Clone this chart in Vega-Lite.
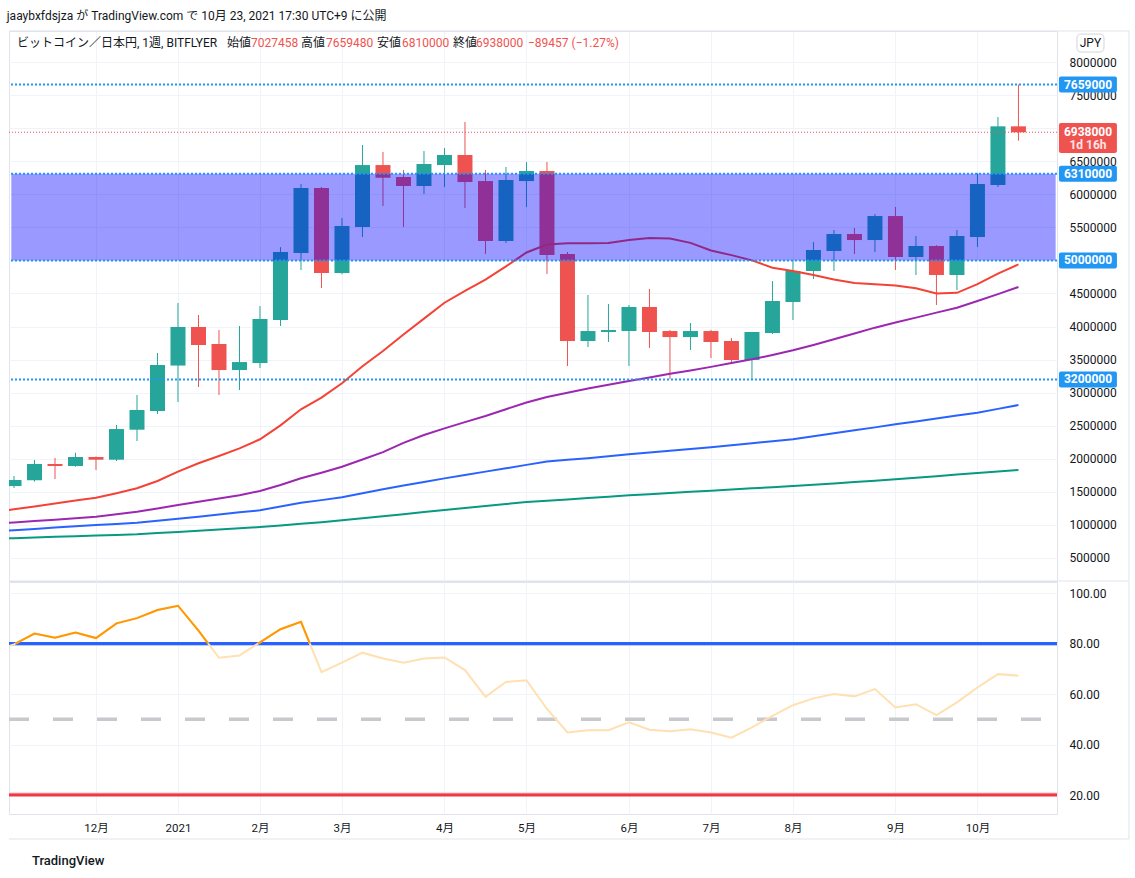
{
  "$schema": "https://vega.github.io/schema/vega-lite/v6.json",
  "background": "white",
  "padding": {"left": 6, "top": 10, "right": 0, "bottom": 0},
  "title": {"text": "jaaybxfdsjza が TradingView.com で 10月 23, 2021 17:30 UTC+9 に公開", "anchor": "start", "fontSize": 12, "fontWeight": "normal", "color": "#131722", "font": "Roboto, 'Noto Sans CJK JP', sans-serif", "offset": 7},
  "config": {
    "font": "Roboto, 'Noto Sans CJK JP', sans-serif",
    "view": {"stroke": "#e0e3eb"},
    "axis": {"labelFont": "Roboto, 'Noto Sans CJK JP', sans-serif", "labelColor": "#131722", "domain": false, "ticks": false, "gridColor": "#f0f3fa", "title": null}
  },
  "data": {"values": [{}]},
  "datasets": {
    "candles": [
      {"d": "2020-11-02", "o": null, "h": null, "l": null, "c": null, "ma1": 1190000, "ma2": 1020000, "ma3": 905000, "ma4": 790000, "rsi": 77.0},
      {"d": "2020-11-09", "o": 1588000, "h": 1740000, "l": 1558000, "c": 1679000, "ma1": 1237000, "ma2": 1038000, "ma3": 920000, "ma4": 800000, "rsi": 79.7},
      {"d": "2020-11-16", "o": 1675000, "h": 1982000, "l": 1655000, "c": 1921000, "ma1": 1280000, "ma2": 1060000, "ma3": 940000, "ma4": 810000, "rsi": 84.0},
      {"d": "2020-11-23", "o": 1921000, "h": 2012000, "l": 1694000, "c": 1891000, "ma1": 1324000, "ma2": 1080000, "ma3": 960000, "ma4": 820000, "rsi": 82.3},
      {"d": "2020-11-30", "o": 1891000, "h": 2092000, "l": 1880000, "c": 2027000, "ma1": 1368000, "ma2": 1100000, "ma3": 980000, "ma4": 829000, "rsi": 84.4},
      {"d": "2020-12-07", "o": 2027000, "h": 2035000, "l": 1830000, "c": 1986000, "ma1": 1412000, "ma2": 1125000, "ma3": 1000000, "ma4": 839000, "rsi": 82.2},
      {"d": "2020-12-14", "o": 1986000, "h": 2511000, "l": 1966000, "c": 2450000, "ma1": 1480000, "ma2": 1160000, "ma3": 1015000, "ma4": 848000, "rsi": 88.0},
      {"d": "2020-12-21", "o": 2440000, "h": 2965000, "l": 2269000, "c": 2738000, "ma1": 1554000, "ma2": 1200000, "ma3": 1034000, "ma4": 858000, "rsi": 90.1},
      {"d": "2020-12-28", "o": 2723000, "h": 3600000, "l": 2677000, "c": 3418000, "ma1": 1664000, "ma2": 1250000, "ma3": 1064000, "ma4": 876000, "rsi": 93.3},
      {"d": "2021-01-04", "o": 3410000, "h": 4356000, "l": 2859000, "c": 3993000, "ma1": 1805000, "ma2": 1300000, "ma3": 1094000, "ma4": 894000, "rsi": 95.0},
      {"d": "2021-01-11", "o": 3993000, "h": 4174000, "l": 3085000, "c": 3721000, "ma1": 1932000, "ma2": 1350000, "ma3": 1125000, "ma4": 913000, "rsi": 85.1},
      {"d": "2021-01-18", "o": 3736000, "h": 3947000, "l": 2965000, "c": 3342000, "ma1": 2042000, "ma2": 1400000, "ma3": 1157000, "ma4": 931000, "rsi": 74.4},
      {"d": "2021-01-25", "o": 3342000, "h": 4008000, "l": 3040000, "c": 3463000, "ma1": 2158000, "ma2": 1450000, "ma3": 1190000, "ma4": 950000, "rsi": 75.3},
      {"d": "2021-02-01", "o": 3448000, "h": 4310000, "l": 3373000, "c": 4114000, "ma1": 2295000, "ma2": 1513000, "ma3": 1221000, "ma4": 968000, "rsi": 80.5},
      {"d": "2021-02-08", "o": 4099000, "h": 5200000, "l": 4008000, "c": 5127000, "ma1": 2506000, "ma2": 1604000, "ma3": 1280000, "ma4": 992000, "rsi": 85.7},
      {"d": "2021-02-15", "o": 5112000, "h": 6155000, "l": 4855000, "c": 6095000, "ma1": 2748000, "ma2": 1705000, "ma3": 1336000, "ma4": 1016000, "rsi": 88.6},
      {"d": "2021-02-22", "o": 6095000, "h": 6110000, "l": 4582000, "c": 4809000, "ma1": 2924000, "ma2": 1790000, "ma3": 1375000, "ma4": 1040000, "rsi": 68.7},
      {"d": "2021-03-01", "o": 4809000, "h": 5641000, "l": 4790000, "c": 5520000, "ma1": 3142000, "ma2": 1880000, "ma3": 1420000, "ma4": 1069000, "rsi": 72.5},
      {"d": "2021-03-08", "o": 5505000, "h": 6745000, "l": 5354000, "c": 6442000, "ma1": 3400000, "ma2": 1990000, "ma3": 1480000, "ma4": 1100000, "rsi": 76.4},
      {"d": "2021-03-15", "o": 6442000, "h": 6639000, "l": 5822000, "c": 6250000, "ma1": 3630000, "ma2": 2100000, "ma3": 1540000, "ma4": 1132000, "rsi": 74.1},
      {"d": "2021-03-22", "o": 6261000, "h": 6367000, "l": 5505000, "c": 6125000, "ma1": 3880000, "ma2": 2240000, "ma3": 1595000, "ma4": 1163000, "rsi": 72.4},
      {"d": "2021-03-29", "o": 6125000, "h": 6654000, "l": 6004000, "c": 6458000, "ma1": 4120000, "ma2": 2360000, "ma3": 1650000, "ma4": 1194000, "rsi": 74.1},
      {"d": "2021-04-05", "o": 6442000, "h": 6699000, "l": 6110000, "c": 6594000, "ma1": 4360000, "ma2": 2460000, "ma3": 1704000, "ma4": 1225000, "rsi": 74.5},
      {"d": "2021-04-12", "o": 6594000, "h": 7093000, "l": 5792000, "c": 6185000, "ma1": 4540000, "ma2": 2555000, "ma3": 1755000, "ma4": 1256000, "rsi": 69.5},
      {"d": "2021-04-19", "o": 6200000, "h": 6367000, "l": 5097000, "c": 5293000, "ma1": 4710000, "ma2": 2647000, "ma3": 1806000, "ma4": 1286000, "rsi": 58.9},
      {"d": "2021-04-26", "o": 5293000, "h": 6412000, "l": 5263000, "c": 6216000, "ma1": 4910000, "ma2": 2750000, "ma3": 1856000, "ma4": 1316000, "rsi": 64.8},
      {"d": "2021-05-03", "o": 6200000, "h": 6488000, "l": 5807000, "c": 6352000, "ma1": 5120000, "ma2": 2850000, "ma3": 1908000, "ma4": 1346000, "rsi": 65.5},
      {"d": "2021-05-10", "o": 6352000, "h": 6488000, "l": 4794000, "c": 5082000, "ma1": 5240000, "ma2": 2935000, "ma3": 1958000, "ma4": 1366000, "rsi": 54.1},
      {"d": "2021-05-17", "o": 5097000, "h": 5127000, "l": 3403000, "c": 3781000, "ma1": 5260000, "ma2": 3000000, "ma3": 1985000, "ma4": 1386000, "rsi": 44.8},
      {"d": "2021-05-24", "o": 3781000, "h": 4477000, "l": 3690000, "c": 3932000, "ma1": 5260000, "ma2": 3063000, "ma3": 2010000, "ma4": 1407000, "rsi": 45.7},
      {"d": "2021-05-31", "o": 3917000, "h": 4340000, "l": 3766000, "c": 3947000, "ma1": 5265000, "ma2": 3120000, "ma3": 2040000, "ma4": 1427000, "rsi": 45.7},
      {"d": "2021-06-07", "o": 3932000, "h": 4326000, "l": 3403000, "c": 4295000, "ma1": 5310000, "ma2": 3176000, "ma3": 2068000, "ma4": 1447000, "rsi": 48.8},
      {"d": "2021-06-14", "o": 4295000, "h": 4567000, "l": 3675000, "c": 3917000, "ma1": 5340000, "ma2": 3230000, "ma3": 2095000, "ma4": 1465000, "rsi": 45.9},
      {"d": "2021-06-21", "o": 3932000, "h": 3947000, "l": 3206000, "c": 3841000, "ma1": 5330000, "ma2": 3287000, "ma3": 2120000, "ma4": 1482000, "rsi": 45.3},
      {"d": "2021-06-28", "o": 3841000, "h": 4053000, "l": 3645000, "c": 3932000, "ma1": 5265000, "ma2": 3335000, "ma3": 2148000, "ma4": 1500000, "rsi": 46.1},
      {"d": "2021-07-05", "o": 3932000, "h": 3950000, "l": 3524000, "c": 3766000, "ma1": 5150000, "ma2": 3390000, "ma3": 2175000, "ma4": 1517000, "rsi": 44.8},
      {"d": "2021-07-12", "o": 3781000, "h": 3826000, "l": 3433000, "c": 3494000, "ma1": 5080000, "ma2": 3450000, "ma3": 2205000, "ma4": 1535000, "rsi": 42.7},
      {"d": "2021-07-19", "o": 3494000, "h": 3920000, "l": 3206000, "c": 3917000, "ma1": 5000000, "ma2": 3504000, "ma3": 2235000, "ma4": 1553000, "rsi": 46.8},
      {"d": "2021-07-26", "o": 3902000, "h": 4688000, "l": 3887000, "c": 4386000, "ma1": 4890000, "ma2": 3570000, "ma3": 2265000, "ma4": 1570000, "rsi": 51.4},
      {"d": "2021-08-02", "o": 4371000, "h": 5006000, "l": 4099000, "c": 4840000, "ma1": 4840000, "ma2": 3640000, "ma3": 2295000, "ma4": 1588000, "rsi": 55.6},
      {"d": "2021-08-09", "o": 4840000, "h": 5278000, "l": 4719000, "c": 5157000, "ma1": 4780000, "ma2": 3720000, "ma3": 2340000, "ma4": 1608000, "rsi": 58.3},
      {"d": "2021-08-16", "o": 5142000, "h": 5460000, "l": 4840000, "c": 5399000, "ma1": 4710000, "ma2": 3807000, "ma3": 2385000, "ma4": 1628000, "rsi": 60.0},
      {"d": "2021-08-23", "o": 5399000, "h": 5490000, "l": 5097000, "c": 5308000, "ma1": 4660000, "ma2": 3895000, "ma3": 2430000, "ma4": 1648000, "rsi": 59.1},
      {"d": "2021-08-30", "o": 5308000, "h": 5701000, "l": 5127000, "c": 5671000, "ma1": 4640000, "ma2": 3983000, "ma3": 2475000, "ma4": 1668000, "rsi": 62.0},
      {"d": "2021-09-06", "o": 5671000, "h": 5807000, "l": 4855000, "c": 5051000, "ma1": 4620000, "ma2": 4060000, "ma3": 2521000, "ma4": 1689000, "rsi": 54.7},
      {"d": "2021-09-13", "o": 5051000, "h": 5369000, "l": 4779000, "c": 5218000, "ma1": 4580000, "ma2": 4135000, "ma3": 2565000, "ma4": 1713000, "rsi": 56.0},
      {"d": "2021-09-20", "o": 5218000, "h": 5230000, "l": 4326000, "c": 4779000, "ma1": 4500000, "ma2": 4210000, "ma3": 2610000, "ma4": 1737000, "rsi": 51.7},
      {"d": "2021-09-27", "o": 4779000, "h": 5460000, "l": 4552000, "c": 5369000, "ma1": 4510000, "ma2": 4285000, "ma3": 2655000, "ma4": 1762000, "rsi": 56.7},
      {"d": "2021-10-04", "o": 5354000, "h": 6320000, "l": 5203000, "c": 6155000, "ma1": 4640000, "ma2": 4386000, "ma3": 2697000, "ma4": 1785000, "rsi": 62.6},
      {"d": "2021-10-11", "o": 6140000, "h": 7168000, "l": 6110000, "c": 7027458, "ma1": 4800000, "ma2": 4490000, "ma3": 2755000, "ma4": 1807000, "rsi": 67.9},
      {"d": "2021-10-18", "o": 7027458, "h": 7659480, "l": 6810000, "c": 6938000, "ma1": 4940000, "ma2": 4598000, "ma3": 2813000, "ma4": 1830000, "rsi": 67.3}
    ],
    "rsi_hot": [
      {"d": "2020-11-09T11:30:00Z", "rsi": 80.0, "seg": "a"},
      {"d": "2020-11-16", "rsi": 84.0, "seg": "a"},
      {"d": "2020-11-23", "rsi": 82.3, "seg": "a"},
      {"d": "2020-11-30", "rsi": 84.4, "seg": "a"},
      {"d": "2020-12-07", "rsi": 82.2, "seg": "a"},
      {"d": "2020-12-14", "rsi": 88.0, "seg": "a"},
      {"d": "2020-12-21", "rsi": 90.1, "seg": "a"},
      {"d": "2020-12-28", "rsi": 93.3, "seg": "a"},
      {"d": "2021-01-04", "rsi": 95.0, "seg": "a"},
      {"d": "2021-01-11", "rsi": 85.1, "seg": "a"},
      {"d": "2021-01-14T08:00:00Z", "rsi": 80.0, "seg": "a"},
      {"d": "2021-01-31T08:00:00Z", "rsi": 80.0, "seg": "b"},
      {"d": "2021-02-01", "rsi": 80.5, "seg": "b"},
      {"d": "2021-02-08", "rsi": 85.7, "seg": "b"},
      {"d": "2021-02-15", "rsi": 88.6, "seg": "b"},
      {"d": "2021-02-18T00:40:00Z", "rsi": 80.0, "seg": "b"}
    ],
    "levels": [{"price": 7659000}, {"price": 6310000}, {"price": 5000000}, {"price": 3200000}],
    "current": [{"price": 6938000}],
    "box": [{"start": "2020-11-08T02:00:00Z", "end": "2021-10-30T17:00:00Z", "lo": 5000000, "hi": 6310000}]
  },
  "spacing": -3,
  "vconcat": [
    {
      "width": 1048,
      "height": 550,
      "layer": [
        {
          "data": {"name": "candles"},
          "mark": {"type": "rule", "strokeWidth": 1, "clip": true},
          "encoding": {
            "x": {"field": "d", "type": "temporal",
              "scale": {"type": "utc", "padding": 0, "domain": [{"year": 2020, "month": 11, "date": 7, "hours": 7, "utc": true}, {"year": 2021, "month": 10, "date": 31, "hours": 4, "utc": true}]},
              "axis": {"values": [{"year": 2020, "month": 12, "date": 7, "utc": true}, {"year": 2021, "month": 1, "date": 4, "utc": true}, {"year": 2021, "month": 2, "date": 1, "utc": true}, {"year": 2021, "month": 3, "date": 1, "utc": true}, {"year": 2021, "month": 4, "date": 5, "utc": true}, {"year": 2021, "month": 5, "date": 3, "utc": true}, {"year": 2021, "month": 6, "date": 7, "utc": true}, {"year": 2021, "month": 7, "date": 5, "utc": true}, {"year": 2021, "month": 8, "date": 2, "utc": true}, {"year": 2021, "month": 9, "date": 6, "utc": true}, {"year": 2021, "month": 10, "date": 4, "utc": true}], "labels": false, "grid": true, "tickSize": 0, "labelPadding": 0, "minExtent": 0, "maxExtent": 0, "offset": 0, "title": null}},
            "y": {"field": "l", "type": "quantitative",
              "scale": {"domain": [152000, 8469000], "nice": false, "zero": false, "padding": 0},
              "axis": {"orient": "right", "values": [500000, 1000000, 1500000, 2000000, 2500000, 3000000, 3500000, 4000000, 4500000, 5000000, 5500000, 6000000, 6500000, 7000000, 7500000, 8000000], "tickCount": 20, "format": "d", "labelPadding": 12, "labelFontSize": 12, "labelOverlap": false, "grid": true, "title": null}},
            "y2": {"field": "h"},
            "color": {"condition": {"test": "datum.c >= datum.o", "value": "#26a69a"}, "value": "#ef5350"}
          }
        },
        {
          "data": {"name": "candles"},
          "mark": {"type": "bar", "size": 15, "clip": true},
          "encoding": {
            "x": {"field": "d", "type": "temporal"},
            "y": {"field": "o", "type": "quantitative"},
            "y2": {"field": "c"},
            "color": {"condition": {"test": "datum.c >= datum.o", "value": "#26a69a"}, "value": "#ef5350"}
          }
        },
        {
          "data": {"name": "candles"},
          "mark": {"type": "line", "color": "#089981", "strokeWidth": 2, "clip": true},
          "encoding": {"x": {"field": "d", "type": "temporal"}, "y": {"field": "ma4", "type": "quantitative"}}
        },
        {
          "data": {"name": "candles"},
          "mark": {"type": "line", "color": "#2962ff", "strokeWidth": 2, "clip": true},
          "encoding": {"x": {"field": "d", "type": "temporal"}, "y": {"field": "ma3", "type": "quantitative"}}
        },
        {
          "data": {"name": "candles"},
          "mark": {"type": "line", "color": "#9c27b0", "strokeWidth": 2, "clip": true},
          "encoding": {"x": {"field": "d", "type": "temporal"}, "y": {"field": "ma2", "type": "quantitative"}}
        },
        {
          "data": {"name": "candles"},
          "mark": {"type": "line", "color": "#f44336", "strokeWidth": 2, "clip": true},
          "encoding": {"x": {"field": "d", "type": "temporal"}, "y": {"field": "ma1", "type": "quantitative"}}
        },
        {
          "data": {"name": "box"},
          "mark": {"type": "rect", "fill": "#0000ff", "fillOpacity": 0.4, "clip": true},
          "encoding": {"x": {"field": "start", "type": "temporal"}, "x2": {"field": "end"}, "y": {"field": "lo", "type": "quantitative"}, "y2": {"field": "hi"}}
        },
        {
          "data": {"name": "levels"},
          "mark": {"type": "rule", "color": "#2196f3", "strokeWidth": 2, "strokeDash": [2, 2]},
          "encoding": {"y": {"field": "price", "type": "quantitative"}}
        },
        {
          "data": {"name": "current"},
          "mark": {"type": "rule", "color": "#ef5350", "strokeWidth": 1, "strokeDash": [1, 2]},
          "encoding": {"y": {"field": "price", "type": "quantitative"}}
        },
        {
          "data": {"name": "levels"},
          "mark": {"type": "bar", "size": 16, "color": "#2196f3", "cornerRadius": 2},
          "encoding": {
            "x": {"datum": {"year": 2021, "month": 10, "date": 31, "hours": 20, "utc": true}, "type": "temporal"},
            "x2": {"datum": {"year": 2021, "month": 11, "date": 20, "hours": 15, "utc": true}},
            "y": {"field": "price", "type": "quantitative"}
          }
        },
        {
          "data": {"name": "levels"},
          "mark": {"type": "text", "color": "white", "fontSize": 12, "fontWeight": "bold", "align": "center", "baseline": "middle"},
          "encoding": {
            "x": {"datum": {"year": 2021, "month": 11, "date": 10, "hours": 18, "utc": true}, "type": "temporal"},
            "y": {"field": "price", "type": "quantitative"},
            "text": {"field": "price", "type": "quantitative", "format": "d"}
          }
        },
        {
          "data": {"name": "current"},
          "mark": {"type": "bar", "size": 30, "color": "#ef5350", "cornerRadius": 2},
          "encoding": {
            "x": {"datum": {"year": 2021, "month": 10, "date": 31, "hours": 20, "utc": true}, "type": "temporal"},
            "x2": {"datum": {"year": 2021, "month": 11, "date": 20, "hours": 15, "utc": true}},
            "y": {"datum": 6851000, "type": "quantitative"}
          }
        },
        {
          "data": {"name": "current"},
          "mark": {"type": "text", "color": "white", "fontSize": 12, "fontWeight": "bold", "align": "center", "baseline": "middle"},
          "encoding": {
            "x": {"datum": {"year": 2021, "month": 11, "date": 10, "hours": 18, "utc": true}, "type": "temporal"},
            "y": {"field": "price", "type": "quantitative"},
            "text": {"field": "price", "type": "quantitative", "format": "d"}
          }
        },
        {
          "mark": {"type": "text", "color": "#fde4e4", "fontSize": 12, "fontWeight": "bold", "align": "center", "baseline": "middle"},
          "encoding": {
            "x": {"datum": {"year": 2021, "month": 11, "date": 10, "hours": 18, "utc": true}, "type": "temporal"},
            "y": {"datum": 6745000, "type": "quantitative"},
            "text": {"value": "1d 16h"}
          }
        },
        {
          "mark": {"type": "bar", "size": 18, "fill": "white", "stroke": "#d1d4dc", "strokeWidth": 1, "cornerRadius": 4},
          "encoding": {
            "x": {"datum": {"year": 2021, "month": 11, "date": 6, "hours": 23, "minutes": 36, "utc": true}, "type": "temporal"},
            "x2": {"datum": {"year": 2021, "month": 11, "date": 16, "hours": 5, "utc": true}},
            "y": {"datum": 8287000, "type": "quantitative"}
          }
        },
        {
          "mark": {"type": "text", "color": "#131722", "fontSize": 12, "align": "center", "baseline": "middle"},
          "encoding": {
            "x": {"datum": {"year": 2021, "month": 11, "date": 11, "hours": 14, "utc": true}, "type": "temporal"},
            "y": {"datum": 8287000, "type": "quantitative"},
            "text": {"value": "JPY"}
          }
        },
        {
          "mark": {"type": "text", "color": "#131722", "fontSize": 12, "align": "left", "baseline": "middle"},
          "encoding": {"x": {"datum": {"year": 2020, "month": 11, "date": 10, "hours": 0, "minutes": 30, "utc": true}, "type": "temporal"}, "y": {"datum": 8287000, "type": "quantitative"}, "text": {"value": "ビットコイン／日本円, 1週, BITFLYER"}}
        },
        {
          "mark": {"type": "text", "color": "#131722", "fontSize": 12, "align": "left", "baseline": "middle"},
          "encoding": {"x": {"datum": {"year": 2021, "month": 1, "date": 20, "hours": 17, "minutes": 36, "utc": true}, "type": "temporal"}, "y": {"datum": 8287000, "type": "quantitative"}, "text": {"value": "始値"}}
        },
        {
          "mark": {"type": "text", "color": "#ef5350", "fontSize": 12, "align": "left", "baseline": "middle"},
          "encoding": {"x": {"datum": {"year": 2021, "month": 1, "date": 28, "hours": 22, "minutes": 24, "utc": true}, "type": "temporal"}, "y": {"datum": 8287000, "type": "quantitative"}, "text": {"value": "7027458"}}
        },
        {
          "mark": {"type": "text", "color": "#131722", "fontSize": 12, "align": "left", "baseline": "middle"},
          "encoding": {"x": {"datum": {"year": 2021, "month": 2, "date": 15, "utc": true}, "type": "temporal"}, "y": {"datum": 8287000, "type": "quantitative"}, "text": {"value": "高値"}}
        },
        {
          "mark": {"type": "text", "color": "#ef5350", "fontSize": 12, "align": "left", "baseline": "middle"},
          "encoding": {"x": {"datum": {"year": 2021, "month": 2, "date": 23, "hours": 13, "utc": true}, "type": "temporal"}, "y": {"datum": 8287000, "type": "quantitative"}, "text": {"value": "7659480"}}
        },
        {
          "mark": {"type": "text", "color": "#131722", "fontSize": 12, "align": "left", "baseline": "middle"},
          "encoding": {"x": {"datum": {"year": 2021, "month": 3, "date": 12, "hours": 22, "minutes": 50, "utc": true}, "type": "temporal"}, "y": {"datum": 8287000, "type": "quantitative"}, "text": {"value": "安値"}}
        },
        {
          "mark": {"type": "text", "color": "#ef5350", "fontSize": 12, "align": "left", "baseline": "middle"},
          "encoding": {"x": {"datum": {"year": 2021, "month": 3, "date": 21, "hours": 11, "minutes": 50, "utc": true}, "type": "temporal"}, "y": {"datum": 8287000, "type": "quantitative"}, "text": {"value": "6810000"}}
        },
        {
          "mark": {"type": "text", "color": "#131722", "fontSize": 12, "align": "left", "baseline": "middle"},
          "encoding": {"x": {"datum": {"year": 2021, "month": 4, "date": 7, "hours": 21, "minutes": 40, "utc": true}, "type": "temporal"}, "y": {"datum": 8287000, "type": "quantitative"}, "text": {"value": "終値"}}
        },
        {
          "mark": {"type": "text", "color": "#ef5350", "fontSize": 12, "align": "left", "baseline": "middle"},
          "encoding": {"x": {"datum": {"year": 2021, "month": 4, "date": 15, "hours": 18, "minutes": 20, "utc": true}, "type": "temporal"}, "y": {"datum": 8287000, "type": "quantitative"}, "text": {"value": "6938000"}}
        },
        {
          "mark": {"type": "text", "color": "#ef5350", "fontSize": 12, "align": "left", "baseline": "middle"},
          "encoding": {"x": {"datum": {"year": 2021, "month": 5, "date": 3, "hours": 12, "minutes": 30, "utc": true}, "type": "temporal"}, "y": {"datum": 8287000, "type": "quantitative"}, "text": {"value": "−89457 (−1.27%)"}}
        },
        {
          "mark": {"type": "rule", "color": "#e0e3eb", "strokeWidth": 1},
          "encoding": {"x": {"datum": {"year": 2021, "month": 11, "date": 24, "hours": 18, "utc": true}, "type": "temporal"}}
        },
        {
          "mark": {"type": "rule", "color": "#e0e3eb", "strokeWidth": 1},
          "encoding": {
            "x": {"datum": {"year": 2020, "month": 11, "date": 7, "hours": 7, "utc": true}, "type": "temporal"},
            "x2": {"datum": {"year": 2021, "month": 11, "date": 24, "hours": 18, "utc": true}},
            "y": {"datum": 8469000, "type": "quantitative"}
          }
        },
        {
          "mark": {"type": "rule", "color": "#e0e3eb", "strokeWidth": 1},
          "encoding": {
            "x": {"datum": {"year": 2020, "month": 11, "date": 7, "hours": 7, "utc": true}, "type": "temporal"},
            "x2": {"datum": {"year": 2021, "month": 11, "date": 24, "hours": 18, "utc": true}},
            "y": {"datum": 152000, "type": "quantitative"}
          }
        }
      ]
    },
    {
      "width": 1048,
      "height": 232,
      "layer": [
        {
          "mark": {"type": "rule", "color": "#c8c9cc", "strokeWidth": 3.5, "strokeDash": [20, 24]},
          "encoding": {
            "x": {"datum": {"year": 2020, "month": 11, "date": 7, "hours": 7, "utc": true}, "type": "temporal"},
            "x2": {"datum": {"year": 2021, "month": 10, "date": 31, "hours": 4, "utc": true}},
            "y": {"datum": 50, "type": "quantitative"}
          }
        },
        {
          "mark": {"type": "rule", "color": "#b9cbff", "strokeWidth": 1.5},
          "encoding": {"y": {"datum": 79.3, "type": "quantitative"}}
        },
        {
          "mark": {"type": "rule", "color": "#2962ff", "strokeWidth": 3},
          "encoding": {"y": {"datum": 80, "type": "quantitative"}}
        },
        {
          "mark": {"type": "rule", "color": "#f9c0c2", "strokeWidth": 1.5},
          "encoding": {"y": {"datum": 20.7, "type": "quantitative"}}
        },
        {
          "mark": {"type": "rule", "color": "#f23645", "strokeWidth": 3},
          "encoding": {"y": {"datum": 20, "type": "quantitative"}}
        },
        {
          "data": {"name": "candles"},
          "mark": {"type": "line", "color": "#ffe0b2", "strokeWidth": 2, "clip": true},
          "encoding": {
            "x": {"field": "d", "type": "temporal",
              "scale": {"type": "utc", "padding": 0, "domain": [{"year": 2020, "month": 11, "date": 7, "hours": 7, "utc": true}, {"year": 2021, "month": 10, "date": 31, "hours": 4, "utc": true}]},
              "axis": {"values": [{"year": 2020, "month": 12, "date": 7, "utc": true}, {"year": 2021, "month": 1, "date": 4, "utc": true}, {"year": 2021, "month": 2, "date": 1, "utc": true}, {"year": 2021, "month": 3, "date": 1, "utc": true}, {"year": 2021, "month": 4, "date": 5, "utc": true}, {"year": 2021, "month": 5, "date": 3, "utc": true}, {"year": 2021, "month": 6, "date": 7, "utc": true}, {"year": 2021, "month": 7, "date": 5, "utc": true}, {"year": 2021, "month": 8, "date": 2, "utc": true}, {"year": 2021, "month": 9, "date": 6, "utc": true}, {"year": 2021, "month": 10, "date": 4, "utc": true}],
                "labelExpr": "utcmonth(datum.value) == 0 ? utcFormat(datum.value, '%Y') : (utcmonth(datum.value) + 1) + '月'",
                "grid": true, "labelFontSize": 11.5, "labelPadding": 8, "labelOverlap": false, "labelFlush": false, "title": null}},
            "y": {"field": "rsi", "type": "quantitative",
              "scale": {"domain": [12.5, 104.4], "nice": false, "zero": false, "padding": 0},
              "axis": {"orient": "right", "values": [20, 40, 60, 80, 100], "format": ".2f", "labelPadding": 12, "labelFontSize": 12, "labelOverlap": false, "grid": true, "title": null}}
          }
        },
        {
          "data": {"name": "rsi_hot"},
          "mark": {"type": "line", "color": "#ff9800", "strokeWidth": 2, "clip": true},
          "encoding": {
            "x": {"field": "d", "type": "temporal"},
            "y": {"field": "rsi", "type": "quantitative"},
            "detail": {"field": "seg"}
          }
        },
        {
          "mark": {"type": "text", "color": "#131722", "fontSize": 13, "fontWeight": 500, "align": "left", "baseline": "middle"},
          "encoding": {
            "x": {"datum": {"year": 2020, "month": 11, "date": 15, "hours": 3, "utc": true}, "type": "temporal"},
            "y": {"datum": -6.1, "type": "quantitative"},
            "text": {"value": "TradingView"}
          }
        },
        {
          "mark": {"type": "rule", "color": "#e0e3eb", "strokeWidth": 1},
          "encoding": {
            "x": {"datum": {"year": 2021, "month": 11, "date": 24, "hours": 18, "utc": true}, "type": "temporal"},
            "y": {"datum": 2.6, "type": "quantitative"},
            "y2": {"datum": 104.4}
          }
        },
        {
          "mark": {"type": "rule", "color": "#e0e3eb", "strokeWidth": 1},
          "encoding": {
            "x": {"datum": {"year": 2020, "month": 11, "date": 7, "hours": 7, "utc": true}, "type": "temporal"},
            "x2": {"datum": {"year": 2021, "month": 11, "date": 24, "hours": 18, "utc": true}},
            "y": {"datum": 2.6, "type": "quantitative"}
          }
        }
      ]
    }
  ]
}
